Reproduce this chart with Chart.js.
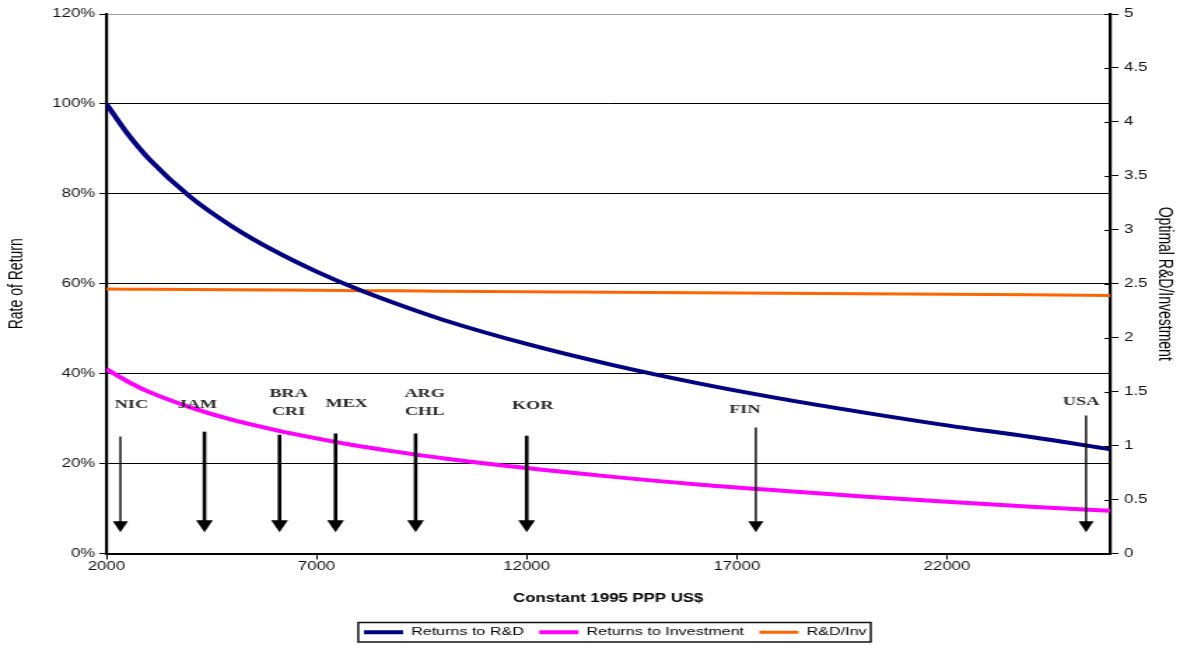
<!DOCTYPE html>
<html>
<head>
<meta charset="utf-8">
<script src="https://cdn.jsdelivr.net/npm/chart.js@4.4.1/dist/chart.umd.min.js"></script>
<style>
  html, body { margin: 0; padding: 0; background: #fff; overflow: hidden; }
  /* the original picture is stretched sideways, so the canvas is too */
  #grafica { display: block; transform: scaleX(1.3998); transform-origin: 0 0; }
</style>
</head>
<body>
<canvas id="grafica" width="843" height="648"></canvas>
<script>
// GDP per capita, constant 1995 PPP US$
const gdp = [2000, 2500, 3000, 4000, 5000, 6000, 7000, 8000, 9000, 10000,
  12000, 14000, 16000, 18000, 20000, 22000, 24000, 25880];
// rate of return (share)
const returnsRD = [1.000, 0.934, 0.879, 0.793, 0.727, 0.673, 0.627, 0.587, 0.552, 0.520,
  0.466, 0.420, 0.380, 0.345, 0.314, 0.285, 0.259, 0.232];
const returnsInv = [0.410, 0.383, 0.360, 0.325, 0.297, 0.275, 0.256, 0.239, 0.225, 0.212,
  0.190, 0.171, 0.154, 0.140, 0.127, 0.115, 0.104, 0.095];
// optimal R&D / investment (right axis)
const rdInv = [2.451, 2.450, 2.449, 2.446, 2.444, 2.441, 2.439, 2.436, 2.434, 2.431,
  2.426, 2.421, 2.416, 2.411, 2.407, 2.402, 2.397, 2.392];

const xTicks = [2000, 7000, 12000, 17000, 22000];
const xMin = 2000, xMax = 25880;

// countries marked with arrows
const paises = [["NIC"], ["JAM"], ["BRA", "CRI"], ["MEX"], ["ARG", "CHL"], ["KOR"], ["FIN"], ["USA"]];
const flechaX = [2333, 4333, 6119, 7452, 9357, 12000, 17452, 25310];
const flechaTop = [0.260, 0.271, 0.264, 0.267, 0.267, 0.262, 0.280, 0.307];
const flechaFin = 0.047;
const etiquetaX = [2595, 4167, 6333, 7714, 9571, 12143, 17190, 25190];
const etiquetaY = [0.331, 0.331, 0.336, 0.333, 0.336, 0.329, 0.320, 0.338];
const finas = ["NIC", "FIN", "USA"];

const puntos = (ys) => gdp.map((g, i) => ({ x: g, y: ys[i] }));

Chart.defaults.font.family = "'Liberation Sans', Arial, sans-serif";
Chart.defaults.color = "#222";

const LEG_PAD = 11;
const LEG_FONT = 11.5;
const LEG_BOX = 28;

const anotaciones = {
  id: "anotaciones",
  afterUpdate(chart) {
    // legend is a bit right of centre in the original
    const lg = chart.legend;
    lg.left += 18;
    lg.right += 18;
    if (lg.adjustHitBoxes) lg.adjustHitBoxes();
  },
  afterDatasetsDraw(chart) {
    const { ctx, scales: { x, y } } = chart;
    ctx.save();
    paises.forEach((p, i) => {
      const px = x.getPixelForValue(flechaX[i]);
      const top = y.getPixelForValue(flechaTop[i]);
      const tip = y.getPixelForValue(flechaFin);
      const fina = finas.includes(p[0]);
      const hw = fina ? 5.4 : 6;
      const hh = fina ? 11 : 12;
      ctx.strokeStyle = "#000";
      ctx.fillStyle = "#000";
      ctx.lineWidth = fina ? 1.4 : 2.6;
      ctx.beginPath();
      ctx.moveTo(px, top);
      ctx.lineTo(px, tip - hh + 1);
      ctx.stroke();
      ctx.beginPath();
      ctx.moveTo(px - hw, tip - hh);
      ctx.lineTo(px + hw, tip - hh);
      ctx.lineTo(px, tip);
      ctx.closePath();
      ctx.fill();

      // country label
      ctx.font = "bold 13px 'Liberation Serif', 'Times New Roman', serif";
      ctx.textAlign = "center";
      ctx.textBaseline = "middle";
      ctx.fillStyle = "#2a2a2a";
      const lx = x.getPixelForValue(etiquetaX[i]);
      const ly = y.getPixelForValue(etiquetaY[i]);
      p.forEach((t, k) => ctx.fillText(t, lx, ly + (k - (p.length - 1) / 2) * 18));
    });
    ctx.restore();
  },
  afterDraw(chart) {
    const { ctx } = chart;
    ctx.save();
    // right axis ticks cross the axis
    const y1 = chart.scales.y1;
    ctx.strokeStyle = "#000";
    ctx.lineWidth = 1;
    ctx.beginPath();
    y1.ticks.forEach(t => {
      const py = Math.round(y1.getPixelForValue(t.value)) + 0.5;
      ctx.moveTo(y1.left - 4, py);
      ctx.lineTo(y1.left, py);
    });
    ctx.stroke();

    // box round the legend, worked out from the legend's own row width
    const lg = chart.legend;
    const fila = lg.lineWidths ? lg.lineWidths[0] : 0;
    if (fila) {
      const l = (lg.left + LEG_PAD + lg.right - fila) / 2 - 4;
      const r = l + 4 + fila - LEG_PAD + 3;
      const t = lg.top + LEG_PAD - 4;
      const b = lg.top + LEG_PAD + LEG_FONT + 4;
      ctx.lineWidth = 1.5;
      ctx.strokeStyle = "#111";
      ctx.strokeRect(l, t, r - l, b - t);
    }
    ctx.restore();
  }
};

const ctx = document.getElementById("grafica").getContext("2d");
const chart = new Chart(ctx, {
  type: "line",
  data: {
    datasets: [
      {
        label: "Returns to R&D",
        data: puntos(returnsRD),
        yAxisID: "y",
        borderColor: "#000080",
        backgroundColor: "#000080",
        borderWidth: 4,
        pointRadius: 0,
        cubicInterpolationMode: "monotone"
      },
      {
        label: "Returns to Investment",
        data: puntos(returnsInv),
        yAxisID: "y",
        borderColor: "#FF00FF",
        backgroundColor: "#FF00FF",
        borderWidth: 4,
        pointRadius: 0,
        cubicInterpolationMode: "monotone"
      },
      {
        label: "R&D/Inv",
        data: puntos(rdInv),
        yAxisID: "y1",
        borderColor: "#FF6600",
        backgroundColor: "#FF6600",
        borderWidth: 3,
        pointRadius: 0
      }
    ]
  },
  options: {
    responsive: false,
    animation: false,
    devicePixelRatio: 1,
    layout: { padding: { top: 14, left: 0, right: 0, bottom: 0 } },
    plugins: {
      tooltip: { enabled: false },
      legend: {
        position: "bottom",
        labels: {
          usePointStyle: true,
          pointStyle: "line",
          pointStyleWidth: LEG_BOX,
          padding: LEG_PAD,
          color: "#000",
          font: { size: LEG_FONT }
        }
      }
    },
    scales: {
      x: {
        type: "linear",
        min: xMin,
        max: xMax,
        afterBuildTicks: s => { s.ticks = xTicks.map(v => ({ value: v })); },
        afterFit: s => { s.height = 62; },
        grid: { drawOnChartArea: false, drawTicks: true, tickLength: 6, color: "#000" },
        border: { color: "#000", width: 2 },
        ticks: {
          autoSkip: false,
          maxRotation: 0,
          padding: 0,
          color: "#111",
          font: { size: 12 },
          callback: v => String(v)
        },
        title: {
          display: true,
          text: "Constant 1995 PPP US$",
          color: "#000",
          font: { size: 12, weight: "bold" },
          padding: { top: 0, bottom: 10 }
        }
      },
      y: {
        position: "left",
        min: 0,
        max: 1.2,
        afterFit: s => { s.width = 76; },
        ticks: {
          stepSize: 0.2,
          padding: 3,
          color: "#111",
          font: { size: 12 },
          callback: v => Math.round(v * 100) + "%"
        },
        grid: {
          color: c => (c.tick && Math.abs(c.tick.value - 1.2) < 1e-6) ? "#999" : "#000",
          tickColor: "#000",
          tickLength: 5,
          lineWidth: 1
        },
        border: { color: "#000", width: 2.2 },
        title: {
          display: true,
          text: "Rate of Return",
          color: "#000",
          font: { size: 14 },
          padding: { top: 4, bottom: 0 }
        }
      },
      y1: {
        position: "right",
        min: 0,
        max: 5,
        afterFit: s => { s.width = 50; },
        ticks: {
          stepSize: 0.5,
          padding: 4,
          color: "#111",
          font: { size: 12 },
          callback: v => String(Math.round(v * 10) / 10)
        },
        grid: { drawOnChartArea: false, tickLength: 6, color: "#000", lineWidth: 1 },
        border: { color: "#000", width: 2.2 },
        title: {
          display: true,
          text: "Optimal R&D/Investment",
          color: "#000",
          font: { size: 14 },
          padding: { top: 3, bottom: 0 }
        }
      }
    }
  },
  plugins: [anotaciones]
});
</script>
</body>
</html>
